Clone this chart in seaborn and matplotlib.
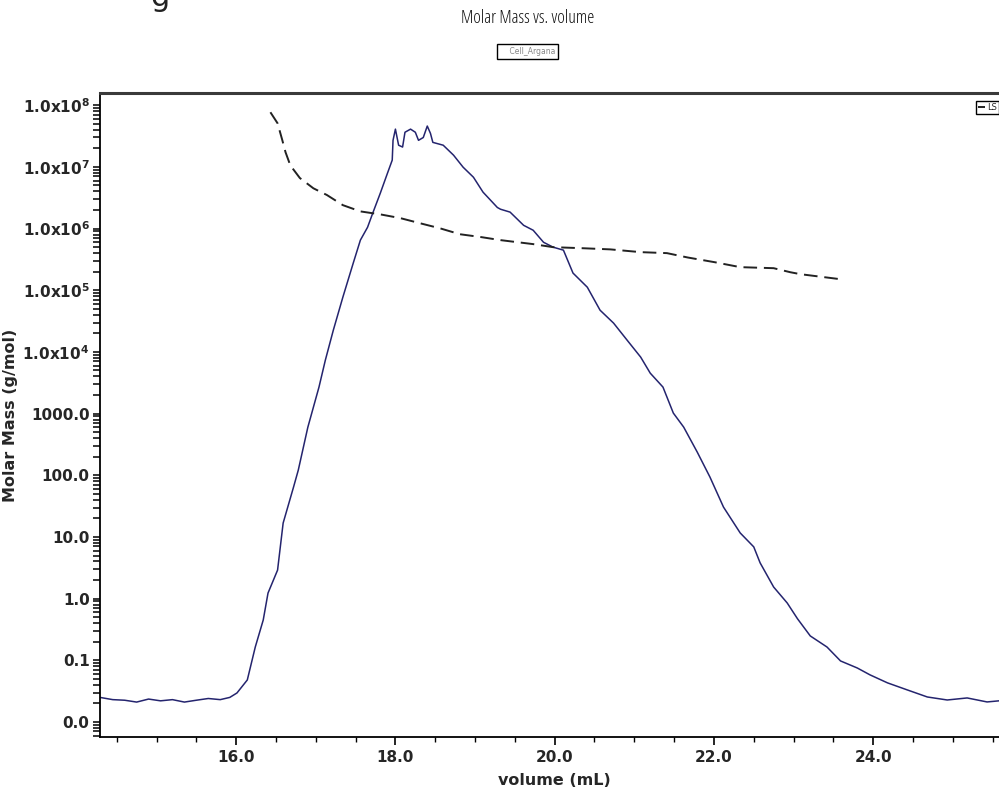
"""Molar mass vs. elution volume (SEC-MALS style trace)"""

import numpy as np
import matplotlib
matplotlib.use("Agg")
import matplotlib.pyplot as plt
import matplotlib.ticker as mticker
import pandas as pd
import seaborn as sns

# solid trace (detector signal, plotted on the molar mass log axis)
trace_volume = [14.29, 14.45, 14.6, 14.75, 14.9, 15.05, 15.2, 15.35, 15.5, 15.65, 15.8, 15.92,
                16.01, 16.14, 16.24, 16.34, 16.40, 16.52, 16.59, 16.72, 16.78, 16.9,
                17.04, 17.12, 17.22, 17.34, 17.47, 17.56, 17.65, 17.72, 17.81, 17.90,
                17.96, 17.97, 18.00, 18.04, 18.09, 18.12, 18.19, 18.25, 18.29, 18.35,
                18.40, 18.44, 18.47, 18.60, 18.73, 18.85, 18.98, 19.10, 19.28, 19.32,
                19.44, 19.61, 19.73, 19.86, 19.98, 20.11, 20.23, 20.41, 20.57, 20.74,
                20.91, 21.08, 21.20, 21.36, 21.49, 21.62, 21.79, 21.95, 22.12, 22.33,
                22.50, 22.58, 22.75, 22.92, 23.05, 23.21, 23.42, 23.59, 23.80, 23.96,
                24.18, 24.43, 24.68, 24.93, 25.18, 25.43, 25.58]
trace_mass = [0.025, 0.023, 0.0225, 0.021, 0.0235, 0.022, 0.023, 0.021, 0.0225, 0.024, 0.023, 0.025,
              0.0295, 0.048, 0.164, 0.45, 1.23, 2.9, 16.8, 64, 121, 600,
              2690, 7360, 22500, 77300, 2.75e5, 6.5e5, 1.05e6, 1.85e6, 3.75e6, 7.9e6,
              1.29e7, 2.7e7, 4.1e7, 2.25e7, 2.1e7, 3.65e7, 4.1e7, 3.65e7, 2.7e7, 3.0e7,
              4.6e7, 3.5e7, 2.5e7, 2.25e7, 1.55e7, 9.9e6, 6.8e6, 3.9e6, 2.2e6, 2.06e6,
              1.85e6, 1.13e6, 9.4e5, 6.0e5, 5.0e5, 4.47e5, 1.9e5, 1.12e5, 4.75e4, 2.93e4,
              1.55e4, 8240, 4530, 2690, 1020, 604, 238, 93.5, 30.5, 11.6,
              6.9, 3.8, 1.54, 0.85, 0.47, 0.248, 0.164, 0.0975, 0.075, 0.058,
              0.043, 0.033, 0.0254, 0.0227, 0.0245, 0.0211, 0.022]

# dashed LS molar mass curve
ls_volume = [16.43, 16.52, 16.58, 16.62, 16.68, 16.80, 16.97, 17.14, 17.34, 17.56, 17.81,
             18.06, 18.31, 18.56, 18.81, 19.07, 19.32, 19.73, 19.98, 20.36, 20.70,
             21.08, 21.41, 21.67, 22.01, 22.33, 22.75, 22.96, 23.09, 23.59]
ls_mass = [7.7e7, 5.1e7, 2.7e7, 1.73e7, 1.06e7, 6.6e6, 4.5e6, 3.5e6, 2.4e6, 1.9e6, 1.7e6,
           1.48e6, 1.22e6, 1.01e6, 8.1e5, 7.3e5, 6.5e5, 5.6e5, 5.0e5, 4.8e5, 4.6e5,
           4.15e5, 4.0e5, 3.4e5, 2.85e5, 2.37e5, 2.28e5, 1.96e5, 1.82e5, 1.51e5]

sns.set_style("ticks")
plt.rcParams['font.family'] = ['DejaVu Sans']
plt.rcParams['mathtext.fontset'] = 'dejavusans'

trace_df = pd.DataFrame({'volume': trace_volume, 'mass': trace_mass})
ls_df = pd.DataFrame({'volume': ls_volume, 'mass': ls_mass})

fig = plt.figure(figsize=(9.99, 7.95), dpi=100)
ax = fig.add_axes([100 / 999, 58 / 795, 899 / 999, 644 / 795])
ax.set_yscale('log')

sns.lineplot(data=trace_df, x='volume', y='mass', ax=ax, color='#24246e', linewidth=1.1,
             estimator=None, label='Cell_Argana', legend=False)
sns.lineplot(data=ls_df, x='volume', y='mass', ax=ax, color='#222222', linewidth=1.4,
             estimator=None, linestyle=(0, (7, 3.5)), label='LS', legend=False)

ax.set_xlim(14.29, 25.58)
ax.set_ylim(0.0057, 1.58e8)


def mass_fmt(v, pos):
    e = np.log10(v)
    if abs(e - round(e)) > 1e-6:
        return ""  # intermediate (2..9 x 10^n) ticks carry no label
    if v >= 1e4:
        return r"$\mathbf{1.0x10^{%d}}$" % int(round(e))
    return "%.1f" % v


ax.spines['right'].set_visible(False)
ax.spines['top'].set_linewidth(2.2)
ax.spines['top'].set_color('#3a3a3a')
for side in ['left', 'bottom']:
    ax.spines[side].set_linewidth(1.3)
    ax.spines[side].set_color('black')

ax.set_xlabel('volume (mL)', fontsize=11.5, fontweight='bold')
ax.set_ylabel('Molar Mass (g/mol)', fontsize=11.5, fontweight='bold')
ax.xaxis.set_label_coords(0.505, -0.056)
ax.yaxis.set_label_coords(-0.091, 0.5)

# LS legend in the top right corner
ls_line = ax.get_lines()[1]
leg = ax.legend(handles=[ls_line], labels=['LS'], loc='upper right', bbox_to_anchor=(1.0, 0.988),
                fontsize=6, frameon=True, fancybox=False, edgecolor='black', framealpha=1,
                handlelength=0.8, borderpad=0.25, handletextpad=0.3, borderaxespad=0)
leg.get_frame().set_linewidth(1.0)

fig.text(0.528, 0.977, 'Molar Mass vs. volume', ha='center', va='center', fontsize=13,
         family=['Open Sans', 'DejaVu Sans'], stretch='condensed', color='#111111')
fig.text(0.528, 0.935, '    Cell_Argana', ha='center', va='center', fontsize=5.5, color='#888888',
         bbox=dict(boxstyle='square,pad=0.4', fc='white', ec='black', lw=1.0))
# clipped fragment of a heading above the figure
fig.text(0.160, 0.992, 'g', ha='center', va='baseline', fontsize=22, color='#222222')

# y ticks: every 1..9 x 10^n, labels only on the decades
y_ticks = [m * 10.0 ** e for e in range(-3, 9) for m in range(1, 10)]
y_ticks = [v for v in y_ticks if 0.0057 < v < 1.58e8]
ax.yaxis.set_major_locator(mticker.FixedLocator(y_ticks))
ax.yaxis.set_major_formatter(mticker.FuncFormatter(mass_fmt))
ax.set_xticks([16, 18, 20, 22, 24])
ax.set_xticks(np.arange(14.5, 25.6, 0.5), minor=True)
ax.xaxis.set_major_formatter(mticker.FormatStrFormatter('%.1f'))

ax.tick_params(axis='x', which='major', length=6, width=1.2, color='black', labelsize=11, pad=3)
ax.tick_params(axis='y', which='major', length=5, width=1.1, color='black', labelsize=11, pad=2.5)
ax.tick_params(axis='x', which='minor', length=3.5, width=1.0, color='black')
for lab in ax.get_xticklabels() + ax.get_yticklabels():
    lab.set_fontweight('bold')

fig.savefig('out.png', dpi=100)
